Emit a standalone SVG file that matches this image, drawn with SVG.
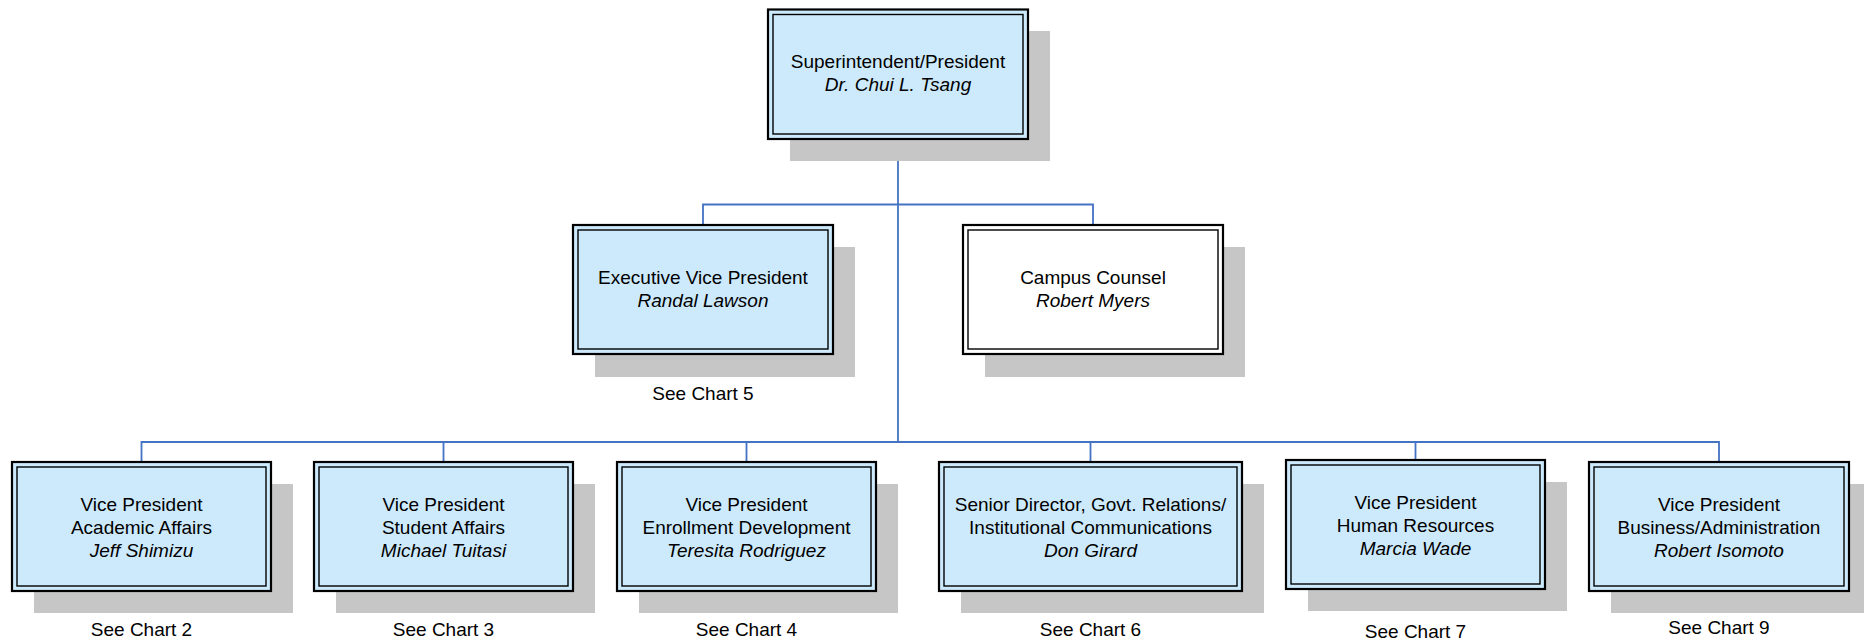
<svg xmlns="http://www.w3.org/2000/svg" width="1864" height="639" viewBox="0 0 1864 639">
  <style>
    .shadow { fill: #c6c6c6; }
    .outer { fill: #cdeafc; stroke: #000; stroke-width: 2.2; }
    .inner { fill: #cdeafc; stroke: #000; stroke-width: 1.4; }
    .plain .outer, .plain .inner { fill: #fff; }
    .conn { fill: none; stroke: #4472c4; stroke-width: 1.8; }
    text { font-family: "Liberation Sans", Arial, sans-serif; font-size: 19px; fill: #000; text-anchor: middle; }
    .name { font-style: italic; }
  </style>

  <!-- reporting lines -->
  <g id="connectors">
    <path class="conn" d="M898,139 V442"/>
    <path class="conn" d="M703,225 V204.5 H1093 V225"/>
    <path class="conn" d="M141.5,462 V442 H1719 V462"/>
    <path class="conn" d="M443.5,442 V462"/>
    <path class="conn" d="M746.5,442 V462"/>
    <path class="conn" d="M1090.5,442 V462"/>
    <path class="conn" d="M1415.5,442 V460"/>
  </g>

  <g id="president">
    <rect class="shadow" x="790" y="31" width="260" height="130"/>
    <rect class="outer" x="768" y="9.5" width="260" height="129.5"/>
    <rect class="inner" x="773" y="14.5" width="250" height="119.5"/>
    <text x="898" y="68">Superintendent/President</text>
    <text class="name" x="898" y="91">Dr. Chui L. Tsang</text>
  </g>

  <g id="exec-vp">
    <rect class="shadow" x="595" y="247" width="260" height="130"/>
    <rect class="outer" x="573" y="225" width="260" height="129"/>
    <rect class="inner" x="578" y="230" width="250" height="119"/>
    <text x="703" y="284">Executive Vice President</text>
    <text class="name" x="703" y="307">Randal Lawson</text>
    <text x="703" y="400">See Chart 5</text>
  </g>

  <g id="campus-counsel" class="plain">
    <rect class="shadow" x="985" y="247" width="260" height="130"/>
    <rect class="outer" x="963" y="225" width="260" height="129"/>
    <rect class="inner" x="968" y="230" width="250" height="119"/>
    <text x="1093" y="284">Campus Counsel</text>
    <text class="name" x="1093" y="307">Robert Myers</text>
  </g>

  <g id="vp-academic">
    <rect class="shadow" x="34" y="484" width="259" height="129"/>
    <rect class="outer" x="12" y="462" width="259" height="129"/>
    <rect class="inner" x="17" y="467" width="249" height="119"/>
    <text x="141.5" y="511">Vice President</text>
    <text x="141.5" y="534">Academic Affairs</text>
    <text class="name" x="141.5" y="557">Jeff Shimizu</text>
    <text x="141.5" y="636">See Chart 2</text>
  </g>

  <g id="vp-student">
    <rect class="shadow" x="336" y="484" width="259" height="129"/>
    <rect class="outer" x="314" y="462" width="259" height="129"/>
    <rect class="inner" x="319" y="467" width="249" height="119"/>
    <text x="443.5" y="511">Vice President</text>
    <text x="443.5" y="534">Student Affairs</text>
    <text class="name" x="443.5" y="557">Michael Tuitasi</text>
    <text x="443.5" y="636">See Chart 3</text>
  </g>

  <g id="vp-enrollment">
    <rect class="shadow" x="639" y="484" width="259" height="129"/>
    <rect class="outer" x="617" y="462" width="259" height="129"/>
    <rect class="inner" x="622" y="467" width="249" height="119"/>
    <text x="746.5" y="511">Vice President</text>
    <text x="746.5" y="534">Enrollment Development</text>
    <text class="name" x="746.5" y="557">Teresita Rodriguez</text>
    <text x="746.5" y="636">See Chart 4</text>
  </g>

  <g id="govt-relations">
    <rect class="shadow" x="961" y="484" width="303" height="129"/>
    <rect class="outer" x="939" y="462" width="303" height="129"/>
    <rect class="inner" x="944" y="467" width="293" height="119"/>
    <text x="1090.5" y="511">Senior Director, Govt. Relations/</text>
    <text x="1090.5" y="534">Institutional Communications</text>
    <text class="name" x="1090.5" y="557">Don Girard</text>
    <text x="1090.5" y="636">See Chart 6</text>
  </g>

  <g id="vp-hr">
    <rect class="shadow" x="1308" y="482" width="259" height="129"/>
    <rect class="outer" x="1286" y="460" width="259" height="129"/>
    <rect class="inner" x="1291" y="465" width="249" height="119"/>
    <text x="1415.5" y="509">Vice President</text>
    <text x="1415.5" y="532">Human Resources</text>
    <text class="name" x="1415.5" y="555">Marcia Wade</text>
    <text x="1415.5" y="638">See Chart 7</text>
  </g>

  <g id="vp-business">
    <rect class="shadow" x="1611" y="484" width="260" height="129"/>
    <rect class="outer" x="1589" y="462" width="260" height="129"/>
    <rect class="inner" x="1594" y="467" width="250" height="119"/>
    <text x="1719" y="511">Vice President</text>
    <text x="1719" y="534">Business/Administration</text>
    <text class="name" x="1719" y="557">Robert Isomoto</text>
    <text x="1719" y="634">See Chart 9</text>
  </g>
</svg>
